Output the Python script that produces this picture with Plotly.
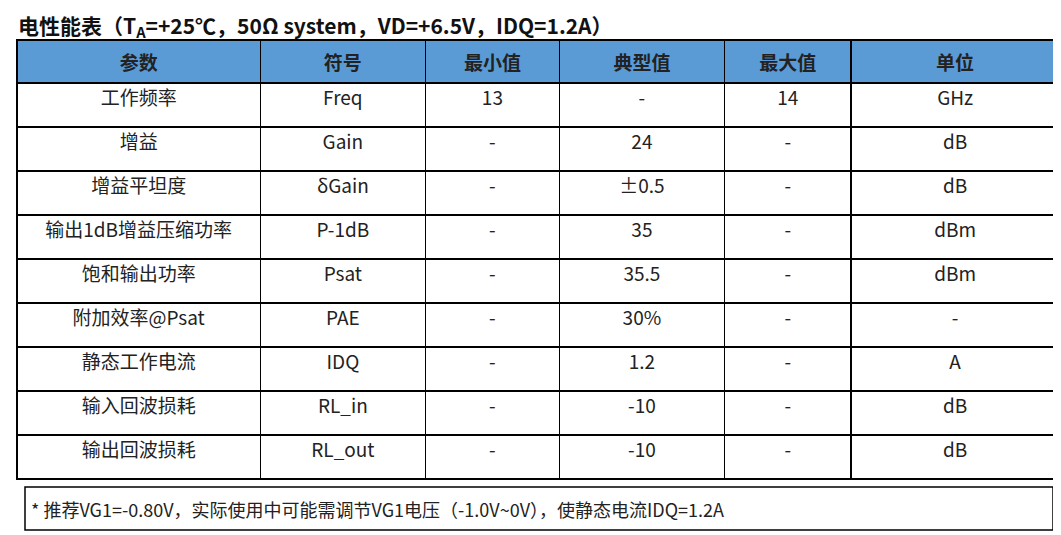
import plotly.graph_objects as go

W, H = 1061, 535

headers = ["参数", "符号", "最小值", "典型值", "最大值", "单位"]
params = ["工作频率", "增益", "增益平坦度", "输出1dB增益压缩功率", "饱和输出功率",
          "附加效率@Psat", "静态工作电流", "输入回波损耗", "输出回波损耗"]
symbols = ["Freq", "Gain", "δGain", "P-1dB", "Psat", "PAE", "IDQ", "RL_in", "RL_out"]
mins = ["13", "-", "-", "-", "-", "-", "-", "-", "-"]
typs = ["-", "24", "±0.5", "35", "35.5", "30%", "1.2", "-10", "-10"]
maxs = ["14", "-", "-", "-", "-", "-", "-", "-", "-"]
units = ["GHz", "dB", "dB", "dBm", "dBm", "-", "A", "dB", "dB"]
col_widths = [240, 163, 132, 163, 125, 205]

title = "电性能表（T<sub>A</sub>=+25℃，50Ω system，VD=+6.5V，IDQ=1.2A）"
note = "* 推荐VG1=-0.80V，实际使用中可能需调节VG1电压（-1.0V~0V），使静态电流IDQ=1.2A"

font = "Noto Sans CJK SC"
box_x0, box_x1 = 17, 1045
header_h = 41
row_h = 44
table_top = 42
table_bottom = table_top + header_h + row_h * len(params)

fig = go.Figure(go.Table(
    # plotly insets the table a bit, so the domain is widened to compensate
    domain=dict(x=[9 / W, 1051 / W], y=[0.0, 1 - 32 / H]),
    columnwidth=col_widths,
    header=dict(
        values=[f"<b>{h}</b>" for h in headers],
        fill_color="#5B9BD5",
        line=dict(color="black", width=1.5),
        font=dict(family=font, size=19, color="#222"),
        align="center",
        height=header_h,
    ),
    cells=dict(
        values=[params, symbols, mins, typs, maxs, units],
        fill_color="white",
        line=dict(color="black", width=1.5),
        font=dict(family=font, size=19, color="#222"),
        align="center",
        height=row_h,
    ),
))

fig.add_annotation(text=f"<b>{title}</b>", x=8 / W, y=1 - 18 / H, xref="paper", yref="paper",
                   xanchor="left", yanchor="middle", showarrow=False,
                   font=dict(family=font, size=21, color="#111"))

# footnote row drawn as a bordered box under the table
fig.add_shape(type="rect", xref="paper", yref="paper",
              x0=box_x0 / W, x1=box_x1 / W, y0=1 - 522 / H, y1=1 - table_bottom / H,
              line=dict(color="black", width=1.5), fillcolor="white")
fig.add_annotation(text=note, x=(box_x0 + 4) / W, y=1 - (table_bottom + 522) / 2 / H,
                   xref="paper", yref="paper", xanchor="left", yanchor="middle",
                   showarrow=False, font=dict(family=font, size=18, color="#222"))

fig.update_layout(width=W, height=H, margin=dict(l=0, r=0, t=0, b=0),
                  paper_bgcolor="white", plot_bgcolor="white")
fig.write_html("out.html")
